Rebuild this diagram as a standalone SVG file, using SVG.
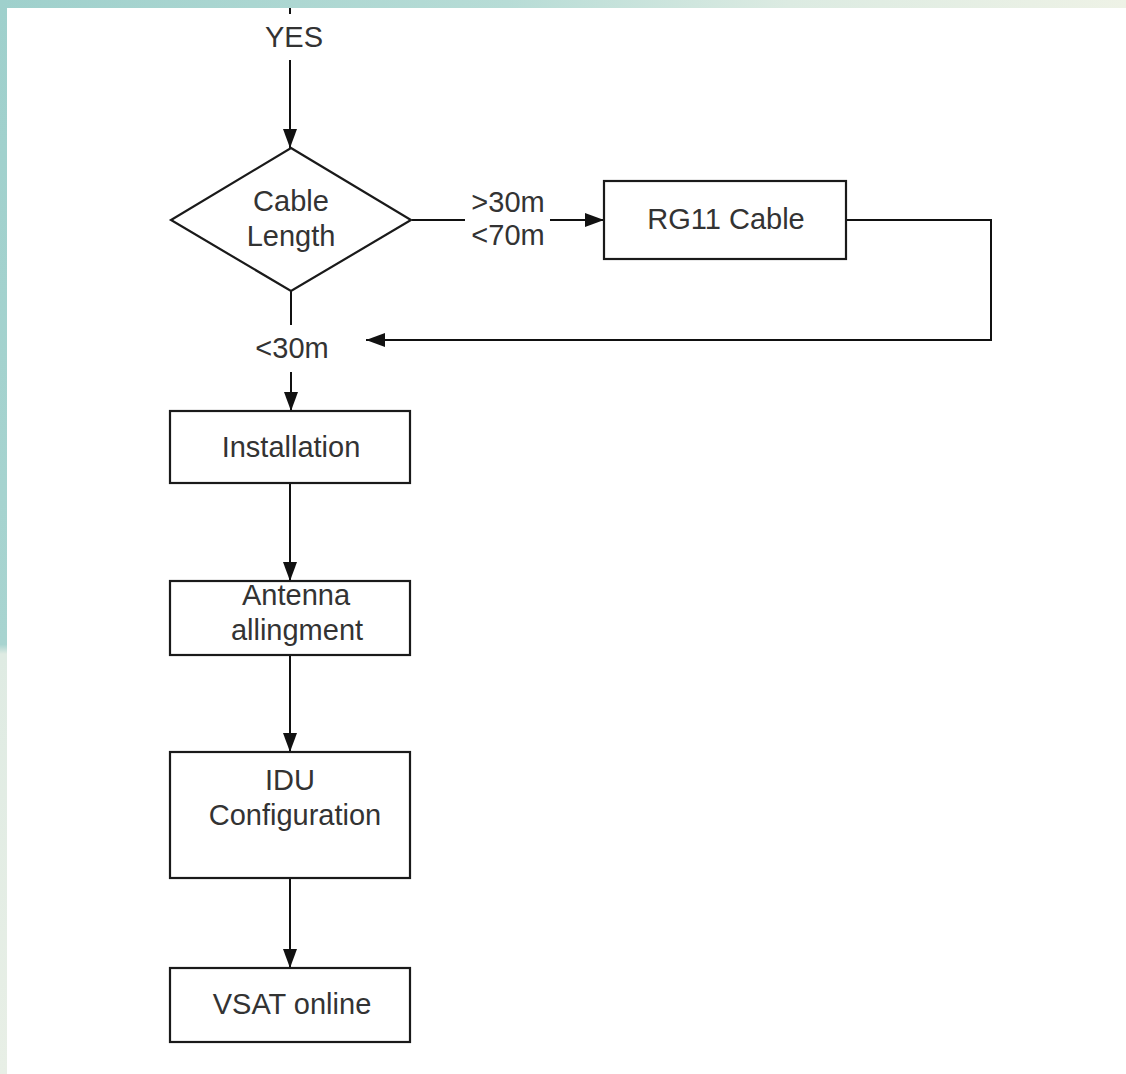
<svg xmlns="http://www.w3.org/2000/svg" width="1126" height="1074" viewBox="0 0 1126 1074">
<style>
.box{fill:#fff;stroke:#1a1a1a;stroke-width:2.2}
.ln{fill:none;stroke:#111;stroke-width:2}
.t{font-family:"Liberation Sans",Arial,sans-serif;font-size:29px;fill:#333;text-anchor:middle}
</style>
<defs>
<linearGradient id="top" x1="0" y1="0" x2="1" y2="0">
<stop offset="0" stop-color="#9fd0cc"/>
<stop offset="0.45" stop-color="#b7dcd6"/>
<stop offset="0.7" stop-color="#dcebe2"/>
<stop offset="1" stop-color="#eef2e6"/>
</linearGradient>
<linearGradient id="left" x1="0" y1="0" x2="0" y2="1">
<stop offset="0" stop-color="#9fd0cc"/>
<stop offset="0.6" stop-color="#a8d4d0"/>
<stop offset="0.609" stop-color="#dfebe3"/>
<stop offset="1" stop-color="#e8efe6"/>
</linearGradient>
<marker id="ah" markerUnits="userSpaceOnUse" markerWidth="20" markerHeight="16" refX="19" refY="7" orient="auto">
<path d="M0,0 L19,7 L0,14 Z" fill="#111"/>
</marker>
</defs>
<rect x="0" y="0" width="1126" height="1074" fill="#fff"/>
<rect x="0" y="0" width="1126" height="8" fill="url(#top)"/>
<rect x="0" y="0" width="7" height="1074" fill="url(#left)"/>

<g id="connectors">
<line class="ln" x1="290" y1="8" x2="290" y2="14"/>
<line class="ln" x1="290" y1="60" x2="290" y2="148" marker-end="url(#ah)"/>
<text class="t" x="294" y="47">YES</text>
<line class="ln" x1="412" y1="220" x2="465" y2="220"/>
<line class="ln" x1="550" y1="220" x2="604" y2="220" marker-end="url(#ah)"/>
<text class="t" x="508" y="212">&gt;30m</text>
<text class="t" x="508" y="245">&lt;70m</text>
<polyline class="ln" points="846,220 991,220 991,340 366,340" marker-end="url(#ah)"/>
<line class="ln" x1="291" y1="291" x2="291" y2="325"/>
<text class="t" x="292" y="358">&lt;30m</text>
<line class="ln" x1="291" y1="372" x2="291" y2="411" marker-end="url(#ah)"/>
<line class="ln" x1="290" y1="483" x2="290" y2="581" marker-end="url(#ah)"/>
<line class="ln" x1="290" y1="655" x2="290" y2="752" marker-end="url(#ah)"/>
<line class="ln" x1="290" y1="878" x2="290" y2="968" marker-end="url(#ah)"/>
</g>

<g id="cable-length">
<polygon class="box" points="291,148 411,220 291,291 171,220"/>
<text class="t" x="291" y="211">Cable</text>
<text class="t" x="291" y="246">Length</text>
</g>
<g id="rg11">
<rect class="box" x="604" y="181" width="242" height="78"/>
<text class="t" x="726" y="229">RG11 Cable</text>
</g>
<g id="installation">
<rect class="box" x="170" y="411" width="240" height="72"/>
<text class="t" x="291" y="457">Installation</text>
</g>
<g id="antenna">
<rect class="box" x="170" y="581" width="240" height="74"/>
<text class="t" x="296" y="605">Antenna</text>
<text class="t" x="297" y="640">allingment</text>
</g>
<g id="idu">
<rect class="box" x="170" y="752" width="240" height="126"/>
<text class="t" x="290" y="790">IDU</text>
<text class="t" x="295" y="825">Configuration</text>
</g>
<g id="vsat">
<rect class="box" x="170" y="968" width="240" height="74"/>
<text class="t" x="292" y="1014">VSAT online</text>
</g>
</svg>
